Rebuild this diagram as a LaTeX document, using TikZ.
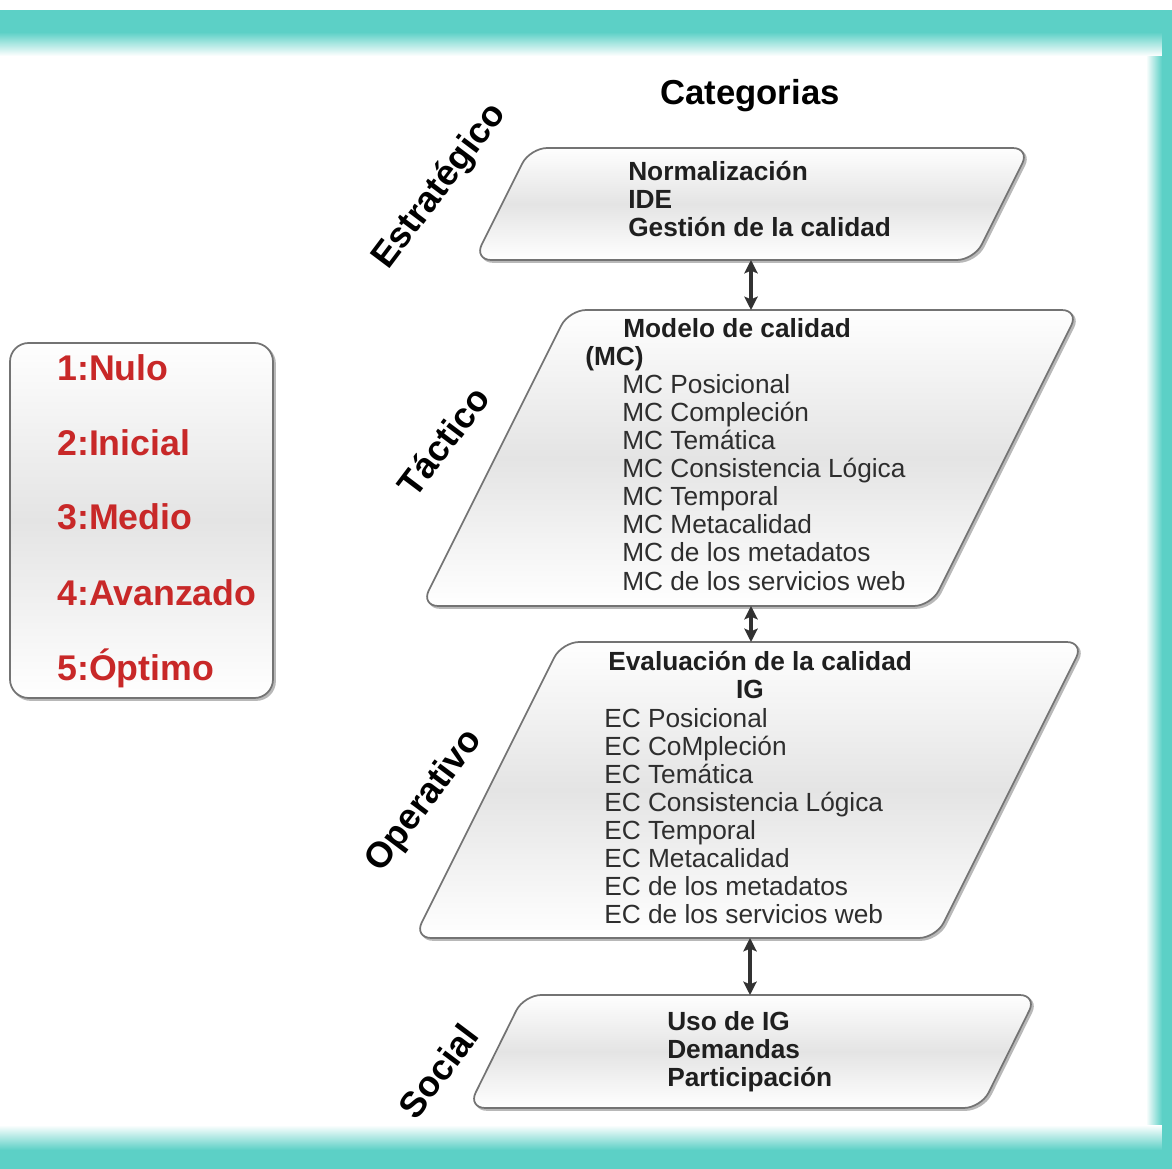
\documentclass[tikz,border=0pt]{standalone}
\usepackage{fontspec}
\setmainfont{Liberation Sans}
\usetikzlibrary{arrows.meta}
\definecolor{tealband}{RGB}{92,208,198}
\definecolor{redtxt}{RGB}{200,40,40}
\definecolor{boxline}{RGB}{115,115,115}
\definecolor{boxmid}{RGB}{228,228,228}
\definecolor{arrowc}{RGB}{50,50,50}
\newcommand\pgram[6]{\path[#1] (#2,#3) -- ++(#4,0) -- ++(#6,-#5) -- ++(-#4,0) -- cycle;}
\begin{document}
\begin{tikzpicture}[x=0.75pt,y=-0.75pt,
  pbox/.style={draw=boxline, line width=1.3pt, rounded corners=13pt, top color=white!97!boxmid, bottom color=white, middle color=boxmid},
  pshadow/.style={fill=black!28, draw=black!28, line width=1.3pt, rounded corners=13pt},
  boxtxt/.style={font=\fontsize{19.7}{21}\selectfont, inner sep=0pt, anchor=base west, text=black!82},
  boxhead/.style={boxtxt, font=\fontsize{19.7}{21}\selectfont\bfseries, text=black!88},
  lvl/.style={font=\fontsize{27}{30}\selectfont\bfseries, inner sep=0pt, rotate=53},
  legtxt/.style={font=\fontsize{26.8}{30}\selectfont\bfseries, text=redtxt, inner sep=0pt, anchor=base west},
  dbl/.style={{Stealth[length=10pt,width=10pt,inset=2pt]}-{Stealth[length=10pt,width=10pt,inset=2pt]}, line width=3pt, draw=arrowc}
]
\useasboundingbox (0,0) rectangle (1172,1169);
\fill[white] (0,0) rectangle (1172,1169);
% frame bands
\shade[left color=white, right color=tealband] (1146,32) rectangle (1162,1150);
\shade[top color=tealband, bottom color=white] (0,32) rectangle (1162,56);
\shade[top color=white, bottom color=tealband] (0,1125) rectangle (1162,1150);
\fill[tealband] (0,10) rectangle (1172,32);
\fill[tealband] (1162,10) rectangle (1172,1169);
\fill[tealband] (0,1150) rectangle (1172,1169);

% legend
\path[pshadow, rounded corners=14pt] (12,345) rectangle (275,700);
\path[pbox, rounded corners=14pt] (10,343) rectangle (273,698);
\node[legtxt] (l1) at (57,381) {1:Nulo};
\node[legtxt] (l2) at (57,456) {2:Inicial};
\node[legtxt] (l3) at (57,530) {3:Medio};
\node[legtxt] (l4) at (57,605) {4:Avanzado};
\node[legtxt] (l5) at (57,680) {5:Óptimo};

% title
\node[font=\fontsize{26}{30}\selectfont\bfseries, anchor=base, inner sep=0pt] (cat) at (750,105) {Categorias};

% boxes
\pgram{pshadow}{476}{262}{500}{112}{56}
\pgram{pbox}{474}{260}{500}{112}{56}
\pgram{pshadow}{423}{608}{510}{296}{148}
\pgram{pbox}{421}{606}{510}{296}{148}
\pgram{pshadow}{416}{940}{522}{296}{148}
\pgram{pbox}{414}{938}{522}{296}{148}
\pgram{pshadow}{470}{1110}{513}{113}{56}
\pgram{pbox}{468}{1108}{513}{113}{56}

% level labels
\node[lvl] (lE) at (440,187) {Estratégico};
\node[lvl] (lT) at (443,441) {Táctico};
\node[lvl] (lO) at (425,801) {Operativo};
\node[lvl] (lS) at (438,1071) {Social};

% Estrategico text
\node[boxhead] (e1) at (628,181) {Normalización};
\node[boxhead] (e2) at (628,209) {IDE};
\node[boxhead] (e3) at (628,237) {Gestión de la calidad};

% Tactico text
\node[boxhead] (t0) at (623,338) {Modelo de calidad};
\node[boxhead] (t00) at (585,366) {(MC)};
\foreach \t [count=\i] in {MC Posicional, MC Compleción, MC Temática, MC Consistencia Lógica, MC Temporal, MC Metacalidad, MC de los metadatos, MC de los servicios web}
  \node[boxtxt] (t\i) at (622,{394+28*(\i-1)}) {\t};

% Operativo text
\node[boxhead] (o0) at (608,670) {Evaluación de la calidad};
\node[boxhead, anchor=base] (o00) at (750,698) {IG};
\foreach \t [count=\i] in {EC Posicional, EC CoMpleción, EC Temática, EC Consistencia Lógica, EC Temporal, EC Metacalidad, EC de los metadatos, EC de los servicios web}
  \node[boxtxt] (o\i) at (604,{727+28*(\i-1)}) {\t};

% Social text
\node[boxhead] (s1) at (667,1030) {Uso de IG};
\node[boxhead] (s2) at (667,1058) {Demandas};
\node[boxhead] (s3) at (667,1086) {Participación};

% connectors
\coordinate (Eb) at (751,260);
\coordinate (Tt) at (751,310);
\coordinate (Tb) at (751,606);
\coordinate (Ot) at (751,642);
\coordinate (Ob) at (750,938);
\coordinate (St) at (750,995);
\draw[dbl] (Eb) -- (Tt);
\draw[dbl] (Tb) -- (Ot);
\draw[dbl] (Ob) -- (St);
\end{tikzpicture}
\end{document}
